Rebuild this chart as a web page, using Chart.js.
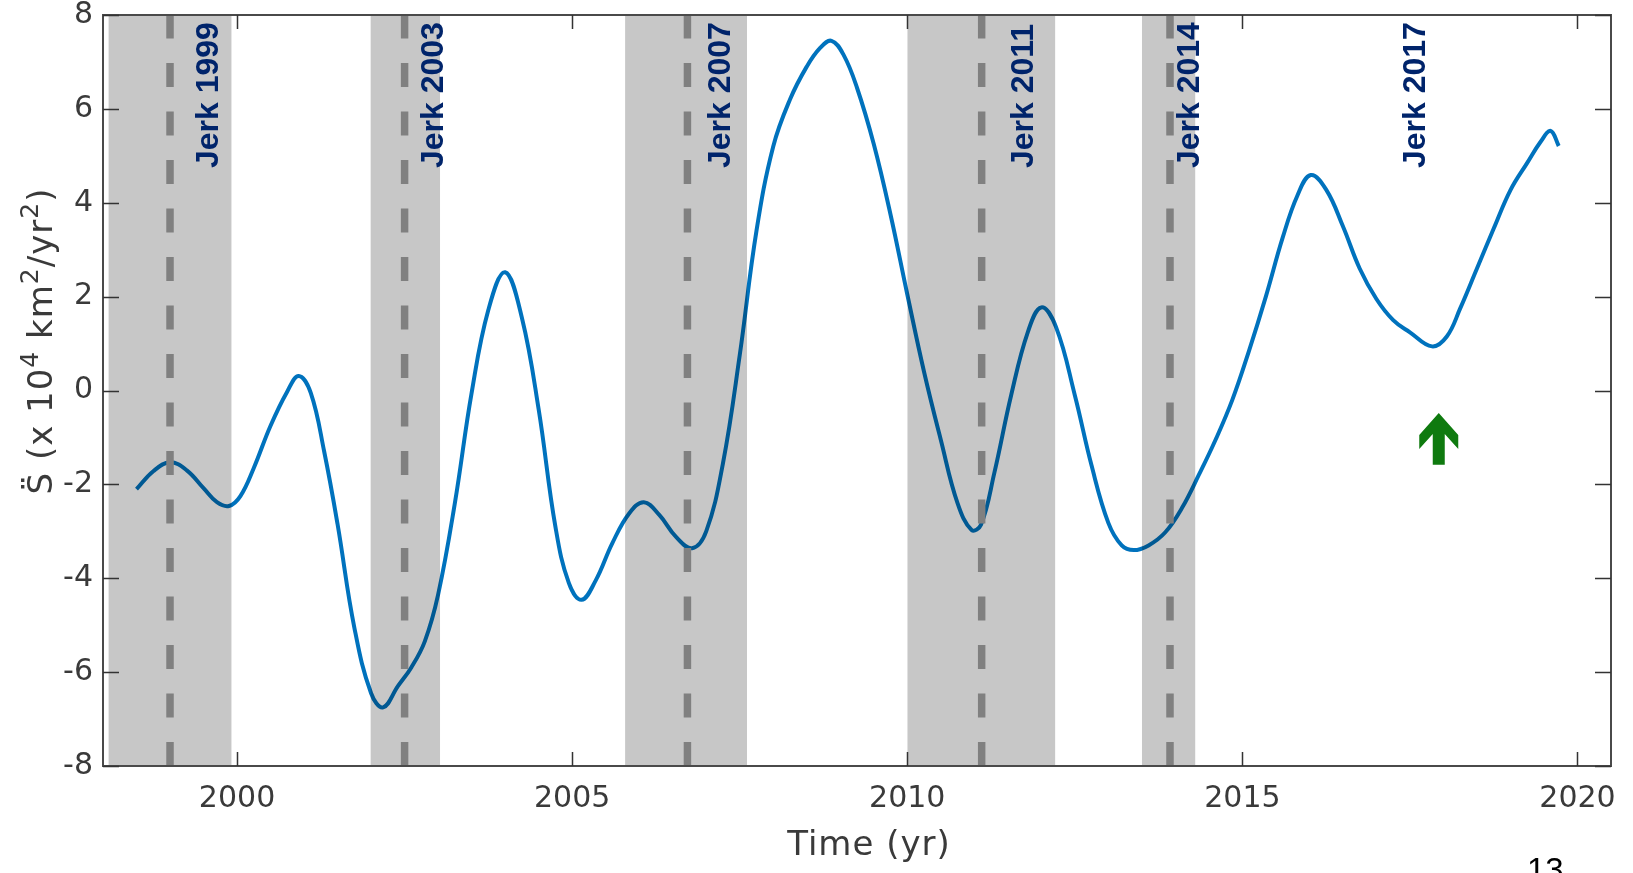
<!DOCTYPE html>
<html lang="en">
<head>
  <meta charset="UTF-8">
  <title>Geomagnetic jerks</title>
  <script src="https://cdn.jsdelivr.net/npm/chart.js"></script>
  <style>
    html, body { margin: 0; padding: 0; background: #fff; }
    #wrap { width: 1633px; height: 873px; }
  </style>
</head>
<body>
  <div id="wrap"><canvas id="jerkChart" width="1633" height="873"></canvas></div>

  <script>
    // curve (year, value in 10^4 km^2/yr^2)
    const years = [1998.50, 1998.75, 1999.00, 1999.25, 1999.50, 1999.70, 1999.88, 2000.05, 2000.25, 2000.50,
      2000.75, 2000.92, 2001.10, 2001.30, 2001.50, 2001.75, 2002.00, 2002.18, 2002.40, 2002.60,
      2002.80, 2003.00, 2003.25, 2003.50, 2003.75, 2004.00, 2004.25, 2004.50, 2004.75, 2004.95,
      2005.14, 2005.35, 2005.60, 2005.85, 2006.07, 2006.30, 2006.55, 2006.79, 2007.00, 2007.25,
      2007.50, 2007.75, 2008.00, 2008.25, 2008.50, 2008.70, 2008.87, 2009.05, 2009.25, 2009.50,
      2009.75, 2010.00, 2010.25, 2010.50, 2010.75, 2010.96, 2011.10, 2011.30, 2011.55, 2011.80,
      2012.00, 2012.22, 2012.50, 2012.75, 2013.00, 2013.20, 2013.38, 2013.60, 2013.85, 2014.10,
      2014.35, 2014.60, 2014.85, 2015.10, 2015.35, 2015.60, 2015.82, 2016.02, 2016.25, 2016.50,
      2016.75, 2017.00, 2017.25, 2017.50, 2017.83, 2018.05, 2018.25, 2018.50, 2018.75, 2019.00,
      2019.25, 2019.45, 2019.60, 2019.72];
    const values = [-2.10, -1.72, -1.53, -1.70, -2.08, -2.38, -2.46, -2.25, -1.65, -0.75,
      -0.02, 0.31, -0.05, -1.30, -2.85, -5.05, -6.45, -6.75, -6.30, -5.90,
      -5.35, -4.35, -2.40, -0.05, 1.72, 2.52, 1.55, -0.40, -2.90, -4.10,
      -4.46, -4.05, -3.25, -2.62, -2.38, -2.65, -3.12, -3.36, -3.00, -1.55,
      0.75, 3.40, 5.20, 6.20, 6.90, 7.30, 7.45, 7.15, 6.45, 5.25,
      3.75, 2.05, 0.40, -1.05, -2.40, -2.97, -2.86, -1.75, -0.10, 1.25,
      1.77, 1.35, -0.10, -1.60, -2.82, -3.30, -3.40, -3.30, -3.02, -2.50,
      -1.80, -1.05, -0.20, 0.85, 2.00, 3.25, 4.15, 4.59, 4.28, 3.50,
      2.60, 1.95, 1.50, 1.24, 0.94, 1.15, 1.75, 2.60, 3.45, 4.27,
      4.85, 5.30, 5.53, 5.21];

    // jerk epochs (dashed lines) and grey intervals
    const jerkYears = [1999.00, 2002.50, 2006.72, 2011.11, 2013.92];
    const shadeStart = [1998.08, 2001.99, 2005.79, 2010.00, 2013.50];
    const shadeEnd = [1999.92, 2003.03, 2007.61, 2012.21, 2014.30];

    // rotated labels
    const jerkLabels = ['Jerk 1999', 'Jerk 2003', 'Jerk 2007', 'Jerk 2011', 'Jerk 2014', 'Jerk 2017'];
    const jerkLabelX = [1999.72, 2003.07, 2007.36, 2011.88, 2014.36, 2017.72];

    // green arrow
    const arrowX = 2017.93;
    const arrowTop = -0.48;
    const arrowBottom = -1.58;

    const xTicks = [2000, 2005, 2010, 2015, 2020];
    const yTicks = [-8, -6, -4, -2, 0, 2, 4, 6, 8];

    const tickFont = { family: "Verdana, 'DejaVu Sans', sans-serif", size: 30 };
    const tickColor = '#3a3a3a';

    const datasets = [];
    datasets.push({
      data: years.map((x, i) => ({ x: x, y: values[i] })),
      borderColor: '#0072BD',
      borderWidth: 4,
      pointRadius: 0,
      tension: 0.4,
      fill: false,
      order: 10
    });
    shadeStart.forEach((a, i) => {
      const b = shadeEnd[i];
      datasets.push({
        data: [{ x: a, y: -8 }, { x: a, y: 8 }, { x: b, y: 8 }, { x: b, y: -8 }],
        borderColor: 'transparent',
        borderWidth: 0,
        backgroundColor: 'rgba(0,0,0,0.22)',
        pointRadius: 0,
        tension: 0,
        fill: 'start',
        order: 5
      });
    });
    jerkYears.forEach(j => {
      datasets.push({
        data: [{ x: j, y: -8 }, { x: j, y: 8 }],
        borderColor: '#808080',
        borderWidth: 7.5,
        borderDash: [24, 24.5],
        borderCapStyle: 'butt',
        pointRadius: 0,
        tension: 0,
        fill: false,
        order: 1
      });
    });

    // box, inward ticks, labels, arrow, axis titles
    const decorations = {
      id: 'decorations',
      afterDatasetsDraw(chart) {
        const { ctx, chartArea: ca, scales: { x, y } } = chart;
        ctx.save();

        // jerk labels
        ctx.fillStyle = '#00246b';
        ctx.font = "bold 32px 'Liberation Sans', Arial, sans-serif";
        ctx.textAlign = 'left';
        ctx.textBaseline = 'alphabetic';
        jerkLabels.forEach((t, i) => {
          ctx.save();
          ctx.translate(x.getPixelForValue(jerkLabelX[i]), 168);
          ctx.rotate(-Math.PI / 2);
          ctx.fillText(t, 0, 0);
          ctx.restore();
        });

        // arrow
        const ax = x.getPixelForValue(arrowX);
        const at = y.getPixelForValue(arrowTop);
        const ab = y.getPixelForValue(arrowBottom);
        ctx.fillStyle = '#0f7a0f';
        ctx.beginPath();
        ctx.moveTo(ax, at);
        ctx.lineTo(ax + 19.5, at + 22);
        ctx.lineTo(ax + 19.5, at + 36);
        ctx.lineTo(ax + 6, at + 21);
        ctx.lineTo(ax + 6, ab);
        ctx.lineTo(ax - 6, ab);
        ctx.lineTo(ax - 6, at + 21);
        ctx.lineTo(ax - 19.5, at + 36);
        ctx.lineTo(ax - 19.5, at + 22);
        ctx.closePath();
        ctx.fill();

        // frame
        ctx.strokeStyle = '#4a4a4a';
        ctx.lineWidth = 2;
        ctx.strokeRect(ca.left, ca.top, ca.right - ca.left, ca.bottom - ca.top);

        // inward ticks on all four sides
        ctx.lineWidth = 1.5;
        ctx.strokeStyle = '#333';
        ctx.beginPath();
        xTicks.forEach(v => {
          const px = Math.round(x.getPixelForValue(v)) + 0.5;
          ctx.moveTo(px, ca.bottom); ctx.lineTo(px, ca.bottom - 14);
          ctx.moveTo(px, ca.top); ctx.lineTo(px, ca.top + 14);
        });
        yTicks.forEach(v => {
          const py = Math.round(y.getPixelForValue(v)) + 0.5;
          ctx.moveTo(ca.left, py); ctx.lineTo(ca.left + 16, py);
          ctx.moveTo(ca.right, py); ctx.lineTo(ca.right - 16, py);
        });
        ctx.stroke();
        ctx.restore();
      },
      afterDraw(chart) {
        const { ctx } = chart;

        // x title
        ctx.save();
        ctx.fillStyle = tickColor;
        ctx.font = "34px Verdana, 'DejaVu Sans', sans-serif";
        ctx.letterSpacing = '1px';
        ctx.textAlign = 'center';
        ctx.textBaseline = 'alphabetic';
        ctx.fillText('Time (yr)', 869, 855);
        ctx.restore();

        // y title with superscripts
        ctx.save();
        const parts = [
          ['S\u0308 (x 10', false], ['4', true], [' km', false], ['2', true],
          ['/yr', false], ['2', true], [')', false]
        ];
        const mainF = "34px Verdana, 'DejaVu Sans', sans-serif";
        const supF = "25px Verdana, 'DejaVu Sans', sans-serif";
        ctx.letterSpacing = '1px';
        let total = 0;
        parts.forEach(p => { ctx.font = p[1] ? supF : mainF; total += ctx.measureText(p[0]).width; });
        ctx.translate(52, 341);
        ctx.rotate(-Math.PI / 2);
        ctx.fillStyle = tickColor;
        ctx.textBaseline = 'alphabetic';
        ctx.textAlign = 'left';
        let pos = -total / 2;
        parts.forEach(p => {
          ctx.font = p[1] ? supF : mainF;
          ctx.fillText(p[0], pos, p[1] ? -14 : 0);
          pos += ctx.measureText(p[0]).width;
        });
        ctx.restore();

        // page number
        ctx.save();
        ctx.fillStyle = '#000';
        ctx.font = "33px 'Liberation Sans', Arial, sans-serif";
        ctx.textBaseline = 'alphabetic';
        ctx.fillText('13', 1527, 881);
        ctx.restore();
      }
    };

    new Chart(document.getElementById('jerkChart'), {
      type: 'line',
      data: { datasets: datasets },
      options: {
        responsive: false,
        animation: false,
        devicePixelRatio: 1,
        layout: { padding: { left: 0, top: 15, right: 22, bottom: 0 } },
        plugins: { legend: { display: false }, tooltip: { enabled: false } },
        scales: {
          x: {
            type: 'linear',
            min: 1998,
            max: 2020.5,
            grid: { display: false, drawTicks: false },
            border: { display: false },
            afterBuildTicks: s => { s.ticks = xTicks.map(v => ({ value: v })); },
            afterFit: s => { s.height = 107; s.paddingLeft = 0; s.paddingRight = 0; },
            ticks: {
              font: tickFont,
              color: tickColor,
              padding: 15,
              maxRotation: 0,
              callback: v => String(v)
            }
          },
          y: {
            type: 'linear',
            min: -8,
            max: 8,
            grid: { display: false, drawTicks: false },
            border: { display: false },
            afterBuildTicks: s => { s.ticks = yTicks.map(v => ({ value: v })); },
            afterFit: s => { s.width = 103; s.paddingTop = 0; s.paddingBottom = 0; },
            ticks: {
              font: tickFont,
              color: tickColor,
              padding: 10,
              callback: v => String(v)
            }
          }
        }
      },
      plugins: [decorations]
    });
  </script>
</body>
</html>
